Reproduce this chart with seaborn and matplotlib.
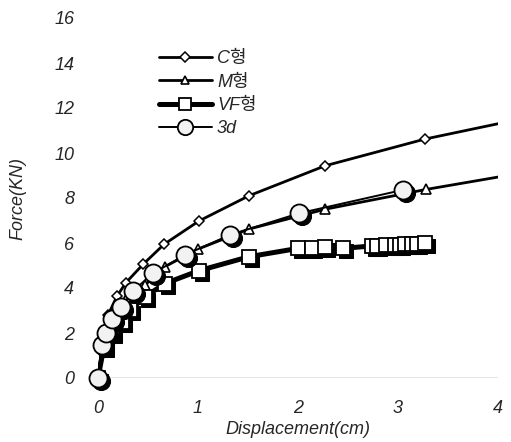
import matplotlib
matplotlib.use("Agg")
import matplotlib.pyplot as plt
import matplotlib.transforms as mtransforms
import seaborn as sns
import pandas as pd

# ---- data ----
c_x = [0, 0.05, 0.10, 0.19, 0.28, 0.45, 0.66, 1.01, 1.51, 2.27, 3.27, 4.30]
c_y = [0, 1.80, 2.80, 3.64, 4.24, 5.05, 5.94, 6.98, 8.10, 9.43, 10.62, 11.58]

m_x = [0, 0.05, 0.12, 0.20, 0.29, 0.47, 0.67, 1.00, 1.51, 2.27, 3.28, 4.30]
m_y = [0, 1.60, 2.70, 3.30, 3.60, 4.13, 4.95, 5.73, 6.62, 7.50, 8.38, 9.16]

vf_x = [0, 0.06, 0.14, 0.24, 0.32, 0.47, 0.67, 1.01, 1.51, 2.00, 2.14, 2.27,
        2.45, 2.74, 2.79, 2.88, 2.97, 3.02, 3.07, 3.14, 3.19, 3.27]
vf_y = [0, 1.40, 2.00, 2.50, 3.02, 3.61, 4.20, 4.77, 5.39, 5.76, 5.76, 5.81,
        5.76, 5.87, 5.87, 5.91, 5.91, 5.93, 5.94, 5.96, 5.96, 6.01]

d3_x = [0, 0.04, 0.08, 0.14, 0.23, 0.35, 0.55, 0.87, 1.32, 2.01, 3.05]
d3_y = [0, 1.47, 2.01, 2.61, 3.14, 3.87, 4.65, 5.47, 6.36, 7.32, 8.36]

series_names = ["C형", "M형", "VF형", "3d"]
x_ticks = [0, 1, 2, 3, 4]
y_ticks = [0, 2, 4, 6, 8, 10, 12, 14, 16]

sns.set_theme(style="white")
plt.rcParams["font.family"] = ["Liberation Sans", "Noto Sans CJK KR", "DejaVu Sans"]
plt.rcParams["font.style"] = "italic"

fig = plt.figure(figsize=(5.11, 4.42), dpi=100)
ax = fig.add_axes([98 / 511, 1 - 378 / 442, 400 / 511, 360 / 442])

shadow = ax.transData + mtransforms.ScaledTranslation(2.2 / 72, -2.2 / 72, fig.dpi_scale_trans)

df_c = pd.DataFrame({"x": c_x, "y": c_y})
df_m = pd.DataFrame({"x": m_x, "y": m_y})
df_vf = pd.DataFrame({"x": vf_x, "y": vf_y})
df_3 = pd.DataFrame({"x": d3_x, "y": d3_y})

# baseline at y=0
ax.axhline(0, color="#333333", lw=0.9, zorder=1)

# C series
sns.lineplot(data=df_c, x="x", y="y", sort=False, ax=ax, color="black", lw=2.0,
             marker="D", markersize=5.5, markerfacecolor="white", markeredgecolor="black",
             markeredgewidth=1.1, label=series_names[0], zorder=3)
# M series
sns.lineplot(data=df_m, x="x", y="y", sort=False, ax=ax, color="black", lw=2.0,
             marker="^", markersize=7, markerfacecolor="white", markeredgecolor="black",
             markeredgewidth=1.2, label=series_names[1], zorder=3)
# VF series shadow (markers only) + main
sns.lineplot(data=df_vf, x="x", y="y", sort=False, ax=ax, color="black",
             linestyle="none", marker="s", markersize=10.5, markerfacecolor="black",
             markeredgecolor="black", transform=shadow, zorder=4, legend=False)
sns.lineplot(data=df_vf, x="x", y="y", sort=False, ax=ax, color="black", lw=3.6,
             marker="s", markersize=10.5, markerfacecolor="white", markeredgecolor="black",
             markeredgewidth=1.3, label=series_names[2], zorder=5)
# 3d series shadow (markers only) + main
sns.lineplot(data=df_3, x="x", y="y", sort=False, ax=ax, color="black",
             linestyle="none", marker="o", markersize=13, markerfacecolor="black",
             markeredgecolor="black", transform=shadow, zorder=6, legend=False, clip_on=False)
sns.lineplot(data=df_3, x="x", y="y", sort=False, ax=ax, color="black", lw=1.4,
             marker="o", markersize=13, markerfacecolor="#f2f2f2", markeredgecolor="black",
             markeredgewidth=1.3, label=series_names[3], zorder=7, clip_on=False)

ax.set_xlim(0, 4)
ax.set_ylim(0, 16)
ax.set_xticks(x_ticks)
ax.set_yticks(y_ticks)
ax.set_xticklabels([str(t) for t in x_ticks])
ax.set_yticklabels([str(t) for t in y_ticks])
ax.tick_params(axis="both", length=0, labelsize=13)
ax.tick_params(axis="x", pad=16)
ax.tick_params(axis="y", pad=17)
for s in ax.spines.values():
    s.set_visible(False)
ax.grid(False)

ax.set_xlabel("Displacement(cm)", fontsize=13, labelpad=3)
ax.set_ylabel("Force(KN)", fontsize=13, labelpad=20)

h, l = ax.get_legend_handles_labels()
leg = ax.legend(h, l, loc="upper left", bbox_to_anchor=(0.135, 0.93), frameon=False,
                fontsize=13, handlelength=2.9, labelspacing=0.35, handletextpad=0.3,
                borderaxespad=0, markerscale=0.85)

fig.savefig("out.png", dpi=100)
